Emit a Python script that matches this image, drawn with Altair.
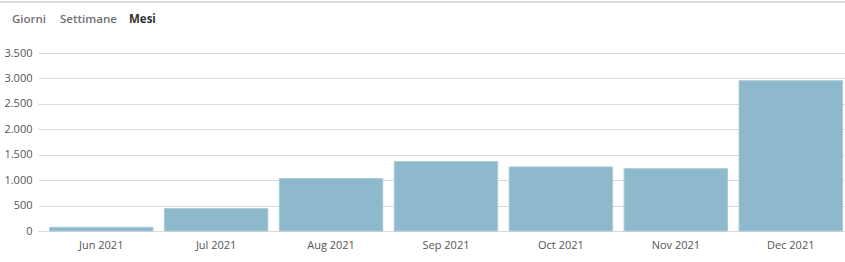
import altair as alt
import pandas as pd

months = ["Jun 2021", "Jul 2021", "Aug 2021", "Sep 2021", "Oct 2021", "Nov 2021", "Dec 2021"]
values = [73, 440, 1030, 1365, 1260, 1225, 2955]
tabs = ["Giorni", "Settimane", "Mesi"]
tab_x = [12, 60, 129]
tab_active = [False, False, True]

df = pd.DataFrame({"month": months, "value": values})
tabs_df = pd.DataFrame({"tab": tabs, "x": tab_x, "active": tab_active})

FONT = "Open Sans"

bars = alt.Chart(df).mark_bar(
    color="#8eb8cb", stroke="#a9cad8", strokeWidth=1
).encode(
    x=alt.X("month:N", sort=months, title=None,
            scale=alt.Scale(paddingInner=0.1, paddingOuter=0.061, align=0.82),
            axis=alt.Axis(labelAngle=0, ticks=False, domain=False, labelPadding=8,
                          labelFont=FONT, labelFontSize=11, labelColor="#555555")),
    y=alt.Y("value:Q", title=None,
            scale=alt.Scale(domain=[0, 3500], nice=False),
            axis=alt.Axis(values=[0, 500, 1000, 1500, 2000, 2500, 3000, 3500],
                          ticks=False, domain=False, labelPadding=6,
                          labelExpr="replace(format(datum.value, ','), ',', '.')",
                          labelFont=FONT, labelFontSize=11, labelColor="#555555",
                          gridColor="#d9d9d9", gridWidth=1)),
)

base_tabs = alt.Chart(tabs_df).transform_calculate(px="datum.x - 38")

tab_normal = base_tabs.transform_filter("!datum.active").mark_text(
    align="left", baseline="middle", font=FONT, fontSize=11.5, color="#707070", fontWeight=600
).encode(
    x=alt.X("px:Q", scale=None, axis=None),
    y=alt.value(-33),
    text="tab:N",
)

tab_bold = base_tabs.transform_filter("datum.active").mark_text(
    align="left", baseline="middle", font=FONT, fontSize=11.5, color="#333333", fontWeight="bold"
).encode(
    x=alt.X("px:Q", scale=None, axis=None),
    y=alt.value(-33),
    text="tab:N",
)

top_line = alt.Chart(pd.DataFrame({"a": [0]})).mark_rule(color="#dddddd", strokeWidth=2).encode(
    x=alt.value(-38), x2=alt.value(807), y=alt.value(-51)
)

chart = alt.layer(top_line, bars, tab_normal, tab_bold).properties(
    width=807, height=178,
    autosize=alt.AutoSizeParams(type="none"),
    padding={"left": 38, "top": 53, "right": 0, "bottom": 31},
    background="white",
).configure_view(stroke=None)

chart.save("out.html", embed_options={"renderer": "svg", "actions": False})
